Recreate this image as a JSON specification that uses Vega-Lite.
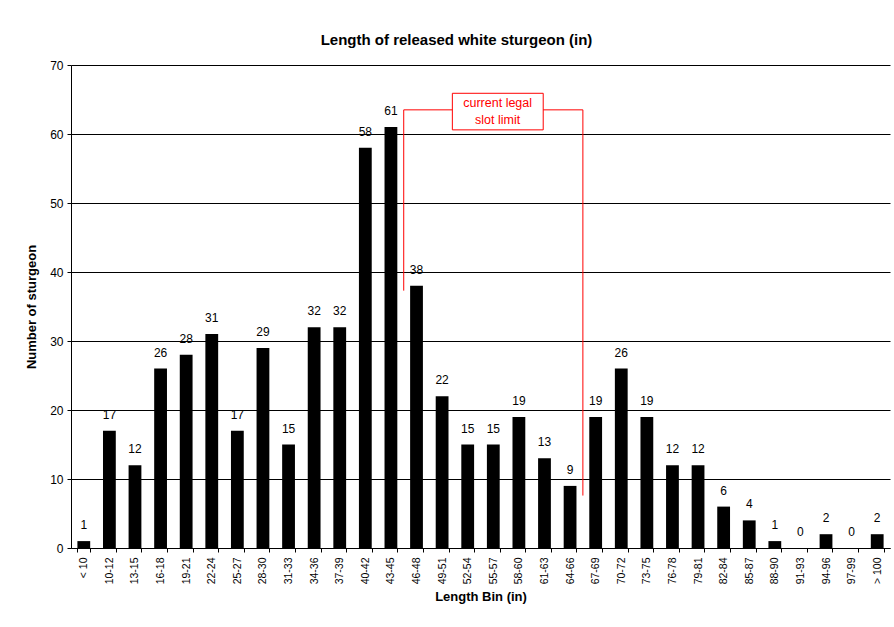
{
  "$schema": "https://vega.github.io/schema/vega-lite/v6.json",
  "width": 819,
  "height": 483,
  "autosize": "none",
  "padding": {"left": 71, "top": 65, "right": 4, "bottom": 79},
  "background": "white",
  "config": {
    "font": "Liberation Sans",
    "view": {"stroke": null}
  },
  "title": {
    "text": "Length of released white sturgeon (in)",
    "fontSize": 15,
    "fontWeight": "bold",
    "font": "Liberation Sans",
    "color": "black",
    "offset": 11,
    "dx": -24,
    "anchor": "middle"
  },
  "datasets": {
    "bins": [
      {"bin": "< 10", "n": 1},
      {"bin": "10-12", "n": 17},
      {"bin": "13-15", "n": 12},
      {"bin": "16-18", "n": 26},
      {"bin": "19-21", "n": 28},
      {"bin": "22-24", "n": 31},
      {"bin": "25-27", "n": 17},
      {"bin": "28-30", "n": 29},
      {"bin": "31-33", "n": 15},
      {"bin": "34-36", "n": 32},
      {"bin": "37-39", "n": 32},
      {"bin": "40-42", "n": 58},
      {"bin": "43-45", "n": 61},
      {"bin": "46-48", "n": 38},
      {"bin": "49-51", "n": 22},
      {"bin": "52-54", "n": 15},
      {"bin": "55-57", "n": 15},
      {"bin": "58-60", "n": 19},
      {"bin": "61-63", "n": 13},
      {"bin": "64-66", "n": 9},
      {"bin": "67-69", "n": 19},
      {"bin": "70-72", "n": 26},
      {"bin": "73-75", "n": 19},
      {"bin": "76-78", "n": 12},
      {"bin": "79-81", "n": 12},
      {"bin": "82-84", "n": 6},
      {"bin": "85-87", "n": 4},
      {"bin": "88-90", "n": 1},
      {"bin": "91-93", "n": 0},
      {"bin": "94-96", "n": 2},
      {"bin": "97-99", "n": 0},
      {"bin": "> 100", "n": 2}
    ],
    "bracket": [
      {"x": 13, "x2": 13, "y": 37.3, "y2": 63.5},
      {"x": 13, "x2": 20, "y": 63.5, "y2": 63.5},
      {"x": 20, "x2": 20, "y": 63.5, "y2": 7.6}
    ],
    "box": [
      {"x": 14.9, "x2": 18.45, "y": 60.6, "y2": 65.9}
    ],
    "boxtext": [
      {"x": 16.67, "y": 64.5, "label": "current legal"},
      {"x": 16.67, "y": 62.0, "label": "slot limit"}
    ]
  },
  "layer": [
    {
      "data": {"name": "bins"},
      "encoding": {
        "x": {
          "field": "bin",
          "type": "nominal",
          "sort": null,
          "scale": {"paddingInner": 0.5, "paddingOuter": 0.25},
          "axis": {
            "title": "Length Bin (in)",
            "titleFontSize": 13,
            "titleFontWeight": "bold",
            "titleColor": "black",
            "titlePadding": 7,
            "labelAngle": 270,
            "labelFontSize": 10.5,
            "labelColor": "black",
            "labelPadding": 5,
            "tickBand": "extent",
            "tickColor": "black",
            "tickSize": 4,
            "domainColor": "black",
            "grid": false
          }
        },
        "y": {
          "field": "n",
          "type": "quantitative",
          "scale": {"domain": [0, 70], "nice": false},
          "axis": {
            "title": "Number of sturgeon",
            "titleFontSize": 13,
            "titleFontWeight": "bold",
            "titleColor": "black",
            "titlePadding": 11,
            "values": [0, 10, 20, 30, 40, 50, 60, 70],
            "labelFontSize": 12,
            "labelColor": "black",
            "labelPadding": 4,
            "tickColor": "black",
            "tickSize": 4,
            "domainColor": "black",
            "grid": true,
            "gridColor": "black",
            "gridOpacity": 1,
            "gridWidth": 1
          }
        }
      },
      "layer": [
        {"mark": {"type": "bar", "color": "black"}},
        {
          "mark": {"type": "text", "dy": -9, "fontSize": 12, "color": "black", "baseline": "bottom"},
          "encoding": {"text": {"field": "n", "type": "quantitative"}}
        }
      ]
    },
    {
      "data": {"name": "bracket"},
      "mark": {"type": "rule", "color": "red", "strokeWidth": 1},
      "encoding": {
        "x": {"field": "x", "type": "quantitative", "scale": {"domain": [0, 32], "nice": false, "zero": false}, "axis": null},
        "x2": {"field": "x2"},
        "y": {"field": "y", "type": "quantitative"},
        "y2": {"field": "y2"}
      }
    },
    {
      "data": {"name": "box"},
      "mark": {"type": "rect", "fill": "white", "stroke": "red", "strokeWidth": 1},
      "encoding": {
        "x": {"field": "x", "type": "quantitative", "scale": {"domain": [0, 32], "nice": false, "zero": false}, "axis": null},
        "x2": {"field": "x2"},
        "y": {"field": "y", "type": "quantitative"},
        "y2": {"field": "y2"}
      }
    },
    {
      "data": {"name": "boxtext"},
      "mark": {"type": "text", "color": "red", "fontSize": 12.5, "align": "center", "baseline": "middle"},
      "encoding": {
        "x": {"field": "x", "type": "quantitative", "scale": {"domain": [0, 32], "nice": false, "zero": false}, "axis": null},
        "y": {"field": "y", "type": "quantitative"},
        "text": {"field": "label"}
      }
    }
  ],
  "resolve": {"scale": {"x": "independent"}, "axis": {"x": "independent"}}
}
